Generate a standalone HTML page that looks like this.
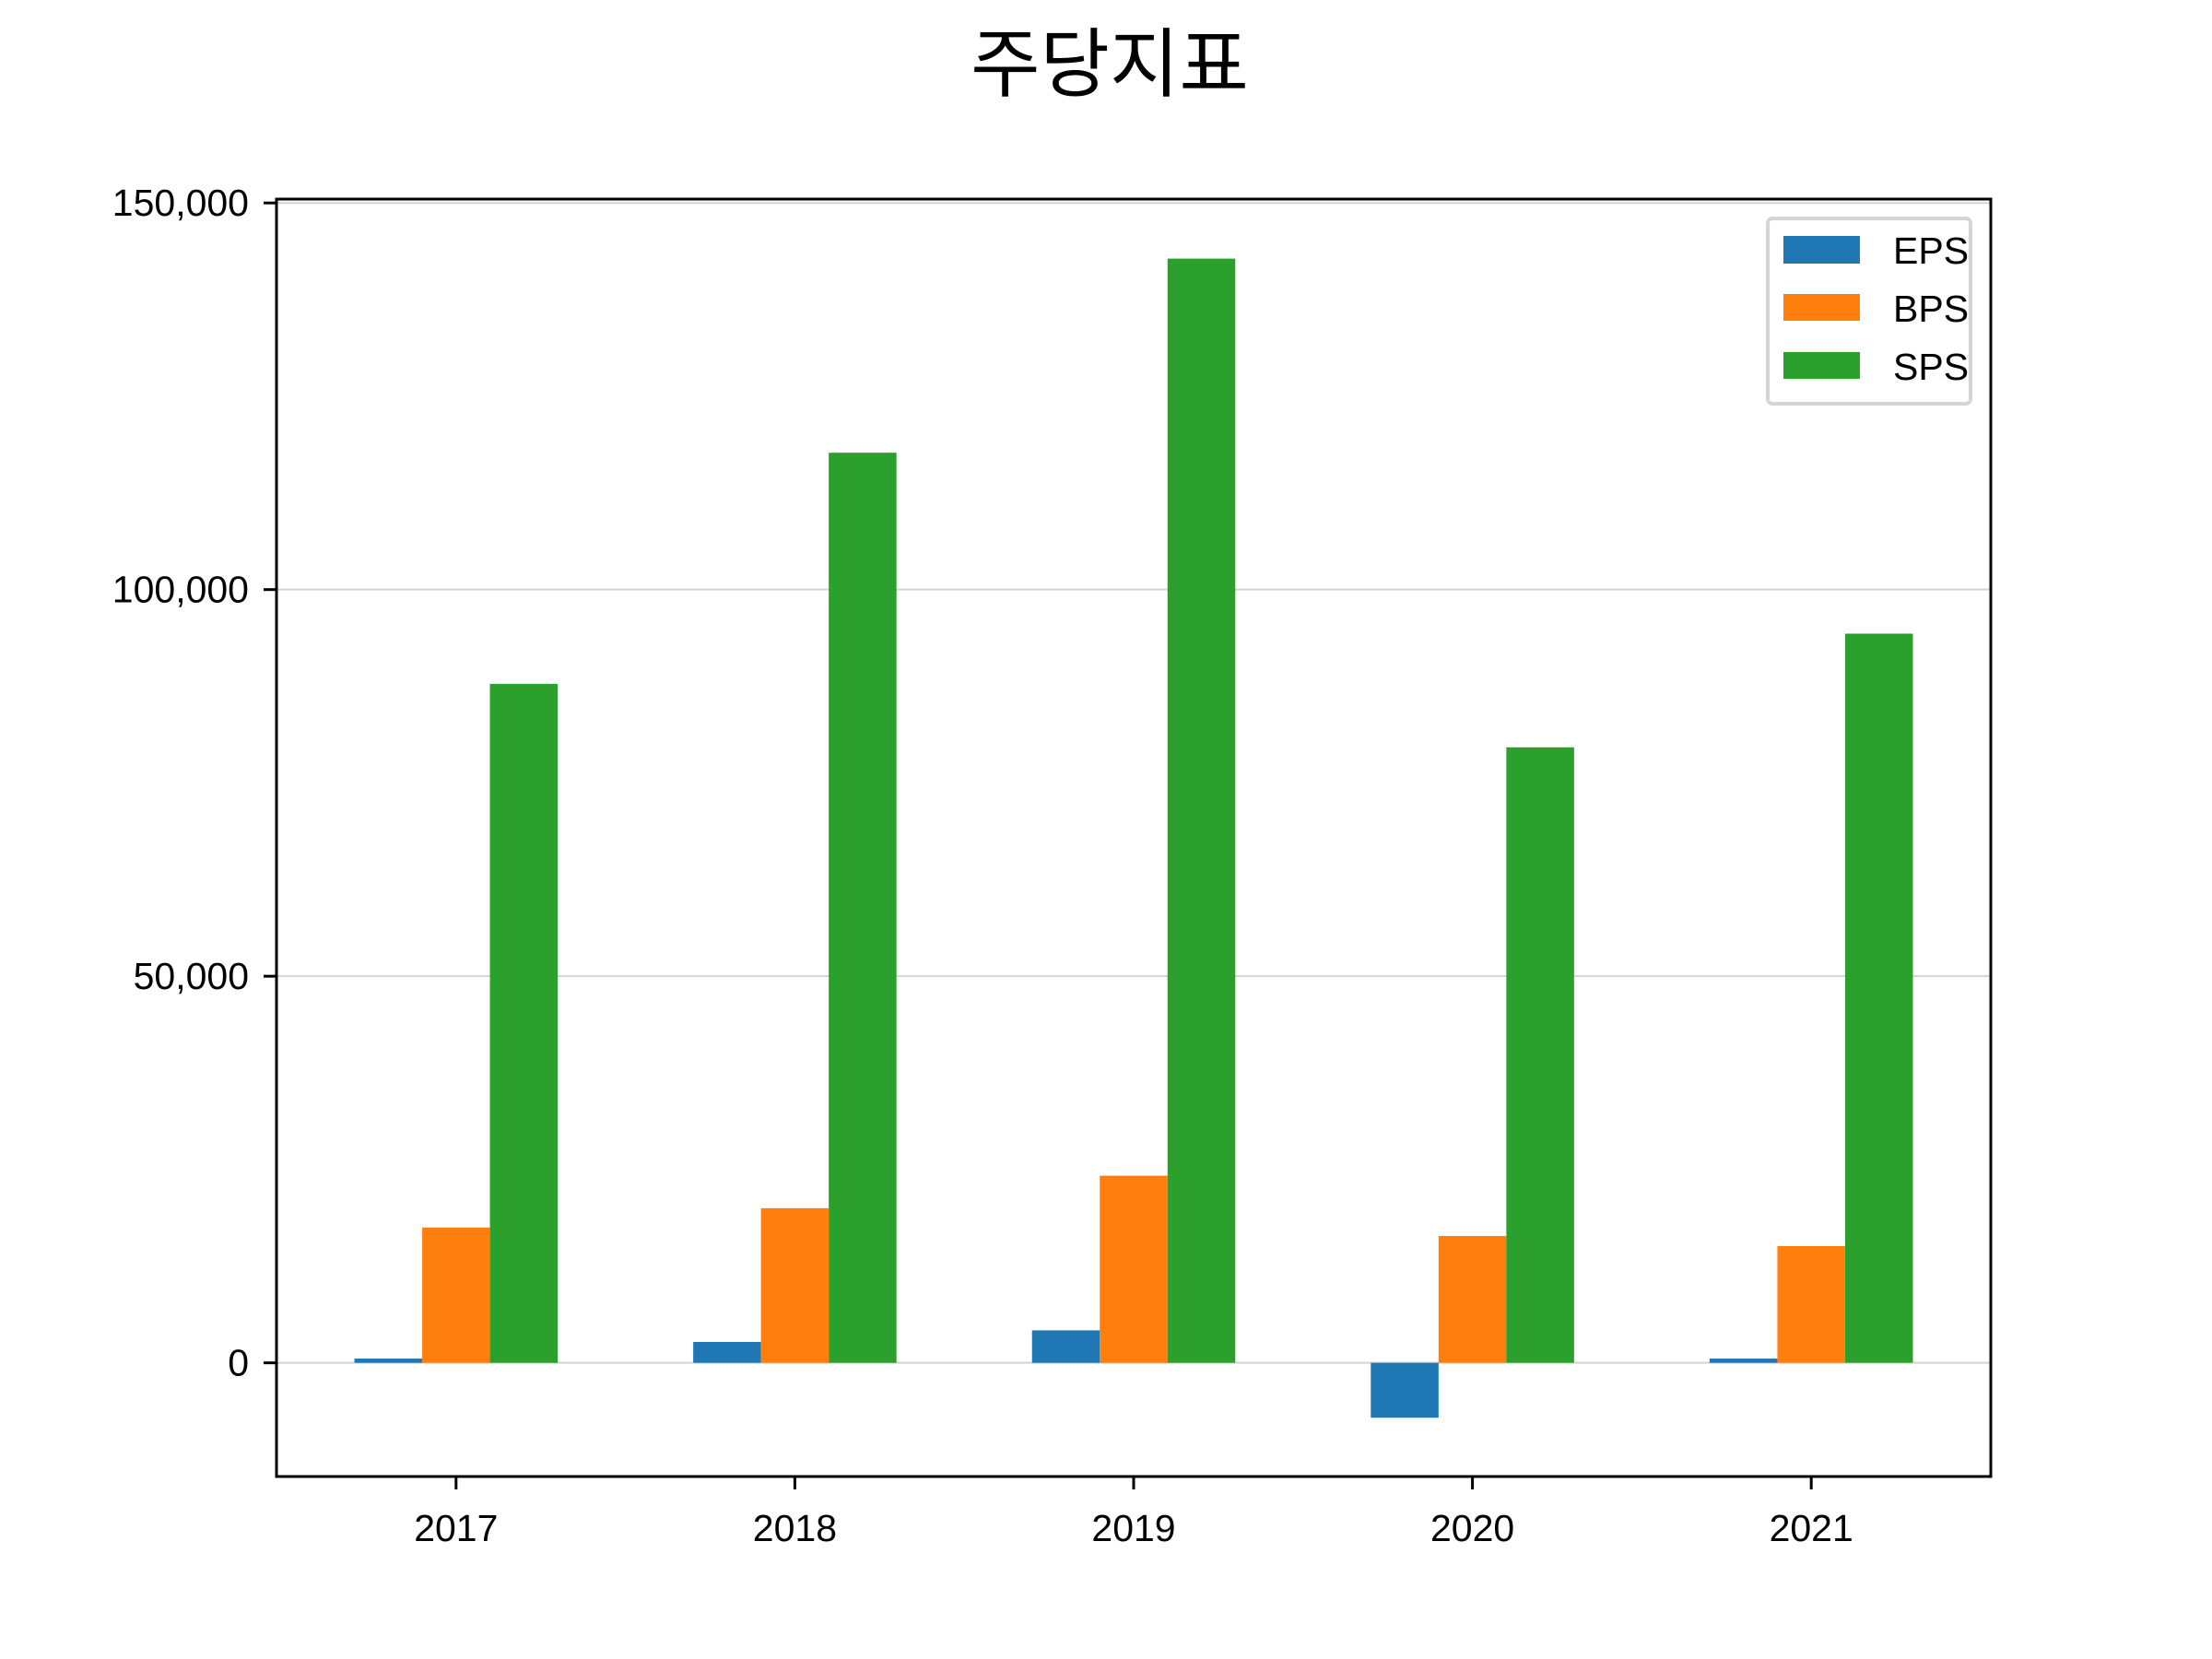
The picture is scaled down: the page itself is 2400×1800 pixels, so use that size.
<!DOCTYPE html>
<html><head><meta charset="utf-8"><style>
html,body{margin:0;padding:0;background:#fff}
svg{display:block;font-family:"Liberation Sans","Noto Sans CJK KR",sans-serif}
</style></head><body>
<svg id="chart" width="2400" height="1800" viewBox="0 0 2400 1800" xmlns="http://www.w3.org/2000/svg">
<rect x="0" y="0" width="2400" height="1800" fill="#fff"/>
<text x="1204" y="98" font-size="82" text-anchor="middle" fill="#000">주당지표</text>
<g id="grid"></g>
<g id="bars"></g>
<g id="axes"></g>
<g>
<rect x="1918" y="237" width="220" height="201" rx="5" fill="#fff" stroke="#d5d5d5" stroke-width="4"/>
<rect x="1935" y="256" width="83" height="30" fill="#1f77b4"/>
<text x="2054" y="286" font-size="41">EPS</text>
<rect x="1935" y="319" width="83" height="29" fill="#ff7f0e"/>
<text x="2054" y="349" font-size="41">BPS</text>
<rect x="1935" y="382" width="83" height="29" fill="#2ca02c"/>
<text x="2054" y="412" font-size="41">SPS</text>
</g>
</svg>
<script>
const categories = ["2017","2018","2019","2020","2021"];
const eps = [550, 2700, 4200, -7100, 550];
const bps = [17500, 20000, 24200, 16400, 15100];
const sps = [87800, 117700, 142800, 79600, 94300];
const yTicks = [0, 50000, 100000, 150000];
const yTickLabels = ["0","50,000","100,000","150,000"];

const NS = "http://www.w3.org/2000/svg";
const L = 300, R = 2160, T = 216, B = 1602;
const xMin = -0.53, xMax = 4.53, yMin = -14700, yMax = 150500;
function xs(v){ return L + (v - xMin) / (xMax - xMin) * (R - L); }
function ys(v){ return B - (v - yMin) / (yMax - yMin) * (B - T); }
function mk(tag, attrs, parent){
  const e = document.createElementNS(NS, tag);
  for (const k in attrs) e.setAttribute(k, attrs[k]);
  parent.appendChild(e);
  return e;
}
const grid = document.getElementById("grid");
const barsG = document.getElementById("bars");
const axes = document.getElementById("axes");

yTicks.forEach((t, i) => {
  const y = ys(t);
  const g = mk("line", {x1: L, x2: R, y1: y, y2: y, stroke: "#d3d3d3", "stroke-width": 2}, grid);
  
  
  const tk = mk("line", {x1: L - 14, x2: L, y1: y, y2: y, stroke: "#000", "stroke-width": 3}, axes);
  
  
  const tx = mk("text", {x: L - 30, y: y + 14, "font-size": 41, "text-anchor": "end", fill: "#000"}, axes);
  
  
  tx.textContent = yTickLabels[i];
});

const series = [[eps, "#1f77b4", -0.2, "eps"], [bps, "#ff7f0e", 0, "bps"], [sps, "#2ca02c", 0.2, "sps"]];
const w = 0.2;
series.forEach(([vals, col, off, nm]) => {
  vals.forEach((v, i) => {
    const x0 = xs(i + off - w / 2), x1 = xs(i + off + w / 2);
    const y0 = ys(Math.max(v, 0)), y1 = ys(Math.min(v, 0));
    const r = mk("rect", {x: x0, y: y0, width: x1 - x0, height: y1 - y0, fill: col}, barsG);
    
    
  });
});

categories.forEach((c, i) => {
  const x = xs(i);
  const tk = mk("line", {x1: x, x2: x, y1: B, y2: B + 14, stroke: "#000", "stroke-width": 3}, axes);
  
  
  const tx = mk("text", {x: x, y: B + 70, "font-size": 41, "text-anchor": "middle", fill: "#000"}, axes);
  
  
  tx.textContent = c;
});

const frame = mk("rect", {x: L, y: T, width: R - L, height: B - T, fill: "none", stroke: "#000", "stroke-width": 3}, axes);


</script>
</body></html>
